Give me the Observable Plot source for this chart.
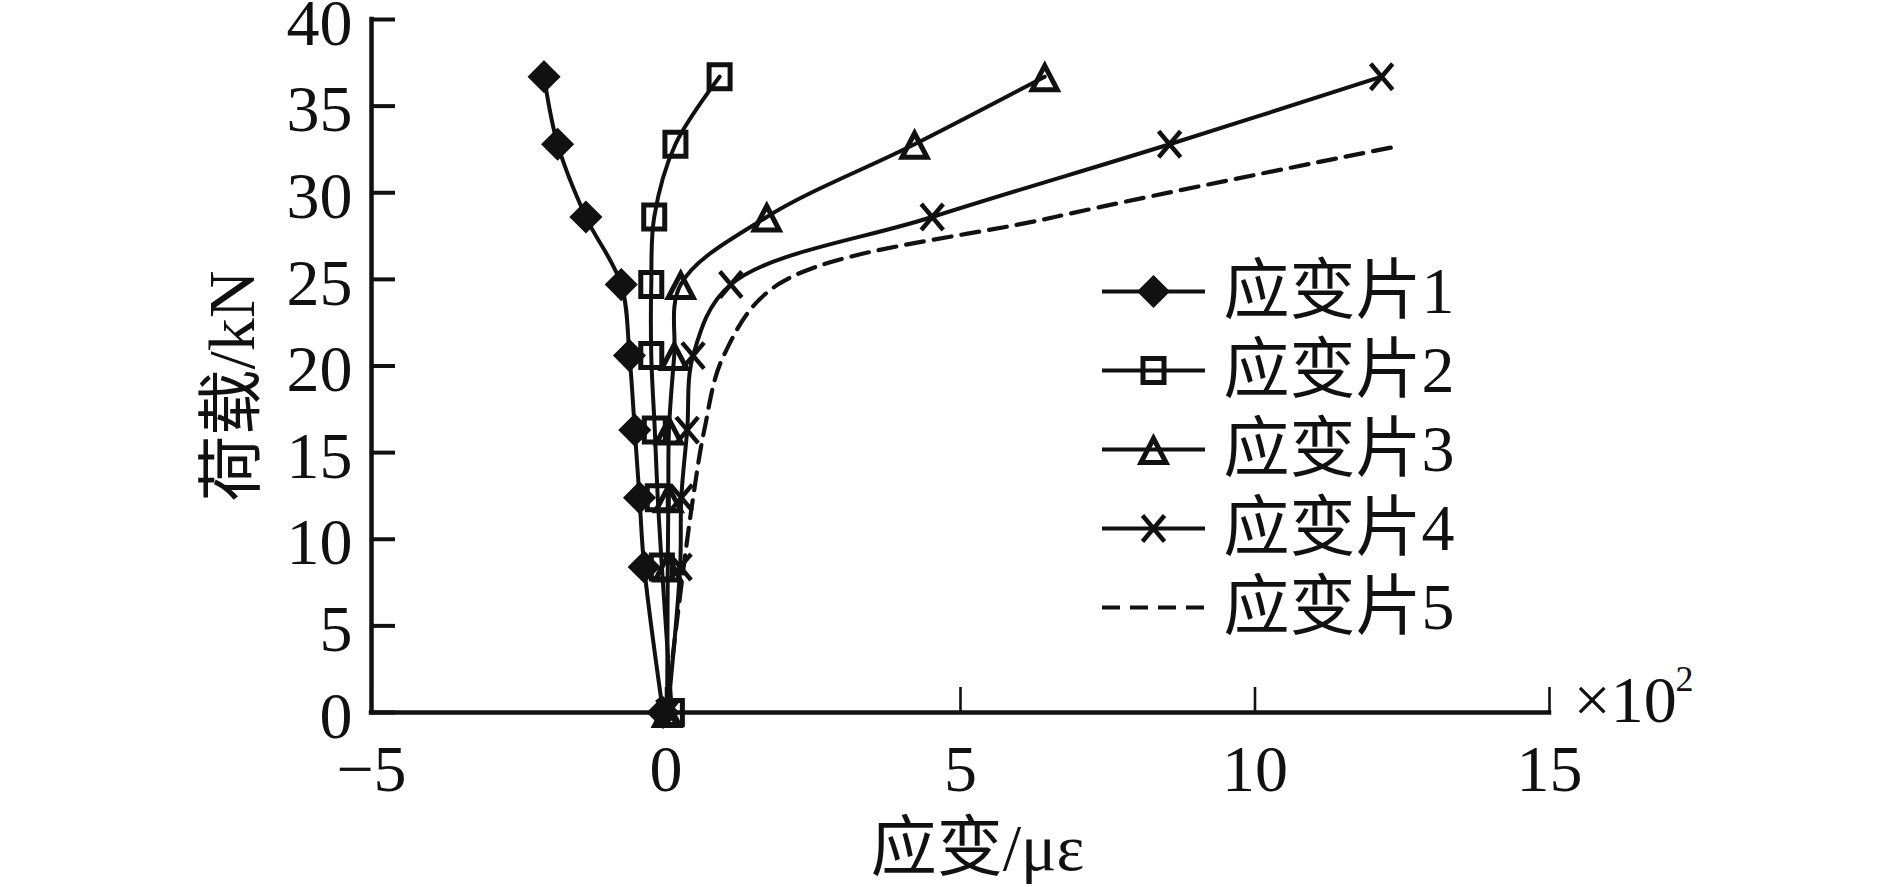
<!DOCTYPE html>
<html><head><meta charset="utf-8">
<script src="https://cdn.jsdelivr.net/npm/d3@7"></script>
<script src="https://cdn.jsdelivr.net/npm/@observablehq/plot@0.6"></script>
<style>html,body{margin:0;padding:0;background:#fff;} svg{display:block}</style>
</head><body><div id="chart"></div>
<script>
// ---- data (strain ×10² με, load kN) ----
const loads  = [0, 8.4, 12.4, 16.3, 20.6, 24.7, 28.6, 32.8, 36.7];
const gauge1 = [-0.05, -0.37, -0.45, -0.53, -0.62, -0.76, -1.36, -1.84, -2.07];
const gauge2 = [0.10, -0.07, -0.14, -0.19, -0.25, -0.25, -0.20, 0.16, 0.91];
const gauge3 = [0.02, 0.03, 0.04, 0.05, 0.14, 0.25, 1.71, 4.22, 6.43];
const gauge4 = [0.03, 0.24, 0.26, 0.36, 0.46, 1.10, 4.52, 8.55, 12.15];
const loads5 = [0, 8.4, 12.4, 16.3, 20.6, 24.7, 28.6, 32.7];
const gauge5 = [0.0, 0.30, 0.46, 0.65, 0.98, 1.90, 6.6, 12.45];
const seriesNames = ["应变片1", "应变片2", "应变片3", "应变片4", "应变片5"];
const xDomain = [-5, 15];
const yDomain = [0, 40];
const xTicks = [-5, 0, 5, 10, 15];
const xTickLabels = ["\u22125", "0", "5", "10", "15"];
const yTicks = [0, 5, 10, 15, 20, 25, 30, 35, 40];
const yTickLabels = ["0", "5", "10", "15", "20", "25", "30", "35", "40"];
const xTitle = "应变/με";
const yTitle = "荷载/kN";
const xUnit = "×10";
const xUnitExp = "2";

// ---- build tables ----
const gauges = [gauge1, gauge2, gauge3, gauge4];
const rows = [];
gauges.forEach((g, s) => g.forEach((v, i) => rows.push({series: seriesNames[s], load: loads[i], strain: v})));
const rows5 = gauge5.map((v, i) => ({series: seriesNames[4], load: loads5[i], strain: v}));

// ---- styles ----
const INK = "#111";
const FONT = "'Liberation Serif', 'Noto Sans CJK SC', serif";
const sym = {
  diamond: {draw(c){c.moveTo(0,-15.5);c.lineTo(15.5,0);c.lineTo(0,15.5);c.lineTo(-15.5,0);c.closePath();}},
  square: {draw(c){c.moveTo(-10.5,-12);c.lineTo(10.5,-12);c.lineTo(10.5,12);c.lineTo(-10.5,12);c.closePath();}},
  triangle: {draw(c){c.moveTo(0,-11);c.lineTo(12.5,13);c.lineTo(-12.5,13);c.closePath();}},
  times: {draw(c){c.moveTo(-11,-13);c.lineTo(11,13);c.moveTo(-11,13);c.lineTo(11,-13);}},
  seg: {draw(c){c.moveTo(-51.5,0);c.lineTo(51.5,0);}}
};
const markerStyles = [
  {symbol: sym.diamond, fill: INK, stroke: INK, strokeWidth: 1.5},
  {symbol: sym.square, fill: "none", stroke: INK, strokeWidth: 5},
  {symbol: sym.triangle, fill: "none", stroke: INK, strokeWidth: 5},
  {symbol: sym.times, fill: "none", stroke: INK, strokeWidth: 4.5}
];

const W = 1889, H = 887;
const mL = 371, mR = 340, mT = 19, mB = 175;

const marks = [];
// data lines
marks.push(Plot.line(rows, {x: "strain", y: "load", z: "series", curve: "catmull-rom", stroke: INK, strokeWidth: 4}));
marks.push(Plot.line(rows5, {x: "strain", y: "load", curve: "catmull-rom", stroke: INK, strokeWidth: 4.2, strokeDasharray: "18,10"}));
// markers
seriesNames.slice(0, 4).forEach((name, s) => {
  marks.push(Plot.dot(rows.filter(d => d.series === name), {x: "strain", y: "load", r: 10, ...markerStyles[s]}));
});
// axes lines
marks.push(Plot.ruleY([yDomain[0]], {stroke: INK, strokeWidth: 4.5, strokeLinecap: "square"}));
marks.push(Plot.ruleX([xDomain[0]], {stroke: INK, strokeWidth: 4.5, strokeLinecap: "square"}));
// ticks (inward)
marks.push(Plot.ruleX(xTicks, {x: d => d, y1: yDomain[0], y2: yDomain[0], insetTop: -25, stroke: INK, strokeWidth: 2.6}));
marks.push(Plot.ruleY(yTicks, {y: d => d, x1: xDomain[0], x2: xDomain[0], insetRight: -24, stroke: INK, strokeWidth: 4}));
// tick labels
marks.push(Plot.text(yTicks, {y: d => d, text: (d, i) => yTickLabels[i], frameAnchor: "left", textAnchor: "end", lineAnchor: "middle", dx: -19, dy: 4, fontSize: 66, fill: INK}));
marks.push(Plot.text(xTicks, {x: d => d, text: (d, i) => xTickLabels[i], frameAnchor: "bottom", textAnchor: "middle", lineAnchor: "middle", dy: 57, fontSize: 66, fill: INK}));
// unit
marks.push(Plot.text([xUnit], {text: d => d, frameAnchor: "bottom-right", textAnchor: "start", lineAnchor: "middle", dx: 24, dy: -12, fontSize: 66, fill: INK}));
marks.push(Plot.text([xUnitExp], {text: d => d, frameAnchor: "bottom-right", textAnchor: "start", lineAnchor: "middle", dx: 126, dy: -33, fontSize: 36, fill: INK}));
// titles
marks.push(Plot.text([xTitle], {text: d => d, frameAnchor: "bottom", textAnchor: "middle", lineAnchor: "middle", dx: 17, dy: 136, fontSize: 66, fill: INK}));
marks.push(Plot.text([yTitle], {text: d => d, frameAnchor: "left", textAnchor: "middle", lineAnchor: "middle", rotate: -90, dx: -139, dy: 20, fontSize: 66, fill: INK}));
// legend
const legTop = 272, legStep = 79, legX = 782, legTextX = 852;
seriesNames.forEach((name, s) => {
  const dy = legTop + s * legStep;
  const dashed = s === 4;
  marks.push(Plot.dot([name], {frameAnchor: "top-left", dx: legX, dy, symbol: sym.seg, r: 10, fill: "none", stroke: INK,
    strokeWidth: dashed ? 4.2 : 4, strokeDasharray: dashed ? "18,10" : null}));
  if (s < 4) marks.push(Plot.dot([name], {frameAnchor: "top-left", dx: legX, dy, r: 10, ...markerStyles[s]}));
  marks.push(Plot.text([name], {text: d => d, frameAnchor: "top-left", textAnchor: "start", lineAnchor: "middle", dx: legTextX, dy, fontSize: 66, fill: INK}));
});

const chart = Plot.plot({
  width: W, height: H,
  marginLeft: mL, marginRight: mR, marginTop: mT, marginBottom: mB,
  x: {domain: xDomain, axis: null},
  y: {domain: yDomain, axis: null},
  style: {fontFamily: FONT, background: "white", overflow: "visible"},
  marks
});
document.getElementById("chart").appendChild(chart);
</script>
</body></html>
